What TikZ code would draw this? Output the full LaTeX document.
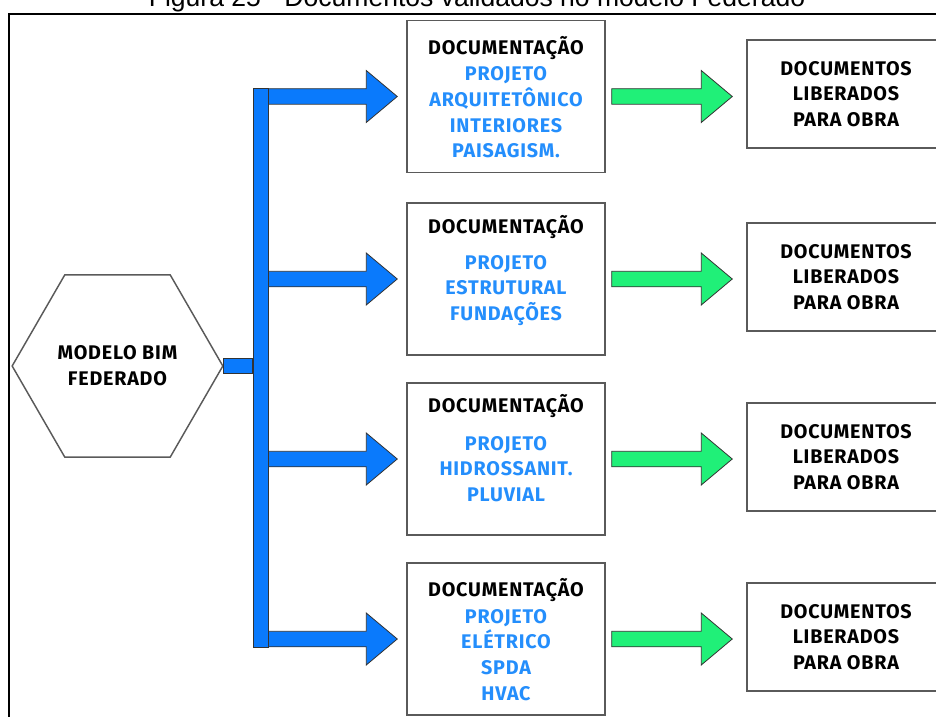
\documentclass[tikz,border=0pt]{standalone}
\usepackage{fontspec}
\setsansfont{Fira Sans}[LetterSpace=4]
\newfontfamily\captionfont{Liberation Sans}
\usetikzlibrary{positioning,calc,shapes.geometric}
\definecolor{BusBlue}{RGB}{10,122,252}
\definecolor{ProjBlue}{RGB}{36,142,252}
\definecolor{FlowGreen}{RGB}{32,240,120}
\definecolor{EdgeGray}{RGB}{90,90,90}
\tikzset{
  docbox/.style={draw=EdgeGray,line width=1.1pt,fill=white,inner sep=0pt,
    minimum width=148.5pt,minimum height=114pt},
  outbox/.style={docbox,minimum height=81pt,align=center,
    font=\sffamily\bfseries\fontsize{14.8}{19.3}\selectfont},
  head/.style={font=\sffamily\bfseries\fontsize{14.8}{19.3}\selectfont,inner sep=0pt,anchor=base},
  proj/.style={head,text=ProjBlue,align=center,anchor=north},
  blockB/.style={fill=BusBlue,draw=black!80,line width=0.6pt},
  blockG/.style={fill=FlowGreen,draw=black!80,line width=0.6pt},
}
% block arrow: style, start, tip
\newcommand{\blockarrow}[3]{%
  \path[#1] ($(#2)+(0,-7.75)$) -- ($(#3)+(-31,-7.75)$) -- ($(#3)+(-31,-26)$) -- (#3)
    -- ($(#3)+(-31,26)$) -- ($(#3)+(-31,7.75)$) -- ($(#2)+(0,7.75)$) -- cycle;}

\begin{document}
\begin{tikzpicture}[x=0.75pt,y=-0.75pt]
\useasboundingbox (0,0) rectangle (936,717);
\clip (0,0) rectangle (936,717);
\node[font=\captionfont\fontsize{19.9}{24}\selectfont,anchor=base] (caption) at (477,7)
  {Figura 25 - Documentos validados no modelo Federado};
\draw[line width=1.5pt] (9,14) rectangle (946,730);

% modelo
\node[regular polygon,regular polygon sides=6,draw=EdgeGray,line width=1.1pt,
  minimum size=158pt,inner sep=0pt,align=center,
  font=\sffamily\bfseries\fontsize{14.8}{19.3}\selectfont] (hex) at (117.5,366)
  {MODELO BIM\\FEDERADO};
\node[blockB,minimum width=11.25pt,minimum height=419.25pt,inner sep=0pt] (bus) at (260.5,367.5) {};
\path[blockB] ($(hex.east)+(0,-7.5)$) rectangle ($(bus.west|-hex.east)+(0,7.5)$);

% documentacao
\node[docbox] (doc1) at (506,96.5) {};
\node[docbox] (doc2) at (506,279) {};
\node[docbox] (doc3) at (506,459) {};
\node[docbox] (doc4) at (506,639) {};
\node[head] (h1) at ($(doc1.north)+(0,34.5)$) {DOCUMENTAÇÃO};
\node[head] (h2) at ($(doc2.north)+(0,31.5)$) {DOCUMENTAÇÃO};
\node[head] (h3) at ($(doc3.north)+(0,30.5)$) {DOCUMENTAÇÃO};
\node[head] (h4) at ($(doc4.north)+(0,34.5)$) {DOCUMENTAÇÃO};
\node[proj] (p1) at ($(doc1.north)+(0,46.5)$) {PROJETO\\ARQUITETÔNICO\\INTERIORES\\PAISAGISM.};
\node[proj] (p2) at ($(doc2.north)+(0,52.5)$) {PROJETO\\ESTRUTURAL\\FUNDAÇÕES};
\node[proj] (p3) at ($(doc3.north)+(0,53.5)$) {PROJETO\\HIDROSSANIT.\\PLUVIAL};
\node[proj] (p4) at ($(doc4.north)+(0,46.5)$) {PROJETO\\ELÉTRICO\\SPDA\\HVAC};

% liberados
\node[outbox] (out1) at (846,94) {DOCUMENTOS\\LIBERADOS\\PARA OBRA};
\node[outbox] (out2) at (846,277) {DOCUMENTOS\\LIBERADOS\\PARA OBRA};
\node[outbox] (out3) at (846,457) {DOCUMENTOS\\LIBERADOS\\PARA OBRA};
\node[outbox] (out4) at (846,637) {DOCUMENTOS\\LIBERADOS\\PARA OBRA};

\foreach \i in {1,...,4}{
  \coordinate (bt\i) at ($(doc\i.west)+(-9,0)$);
  \coordinate (gs\i) at ($(doc\i.east)+(6,0)$);
  \coordinate (gt\i) at ($(doc\i.east-|out\i.west)+(-14,0)$);
  \blockarrow{blockB}{bus.east|-bt\i}{bt\i}
  \blockarrow{blockG}{gs\i}{gt\i}
}
\end{tikzpicture}
\end{document}
